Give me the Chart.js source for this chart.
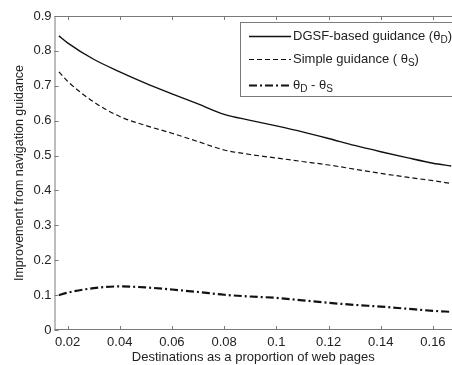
<!DOCTYPE html>
<html>
<head>
<meta charset="utf-8">
<script src="https://cdn.jsdelivr.net/npm/chart.js@4.4.1/dist/chart.umd.min.js"></script>
<style>
html,body{margin:0;padding:0;background:#fff;}
#wrap{width:452px;height:365px;position:relative;}
</style>
</head>
<body>
<div id="wrap"><canvas id="c" width="452" height="365"></canvas></div>
<script>
const destinations = [0.0167, 0.02, 0.03, 0.04, 0.05, 0.06, 0.07, 0.08, 0.09, 0.10, 0.11, 0.12, 0.13, 0.14, 0.15, 0.16, 0.167];
const dgsfGuidance = [0.843, 0.823, 0.776, 0.740, 0.707, 0.677, 0.648, 0.618, 0.601, 0.585, 0.568, 0.549, 0.529, 0.511, 0.494, 0.478, 0.470];
const simpleGuidance = [0.740, 0.713, 0.654, 0.612, 0.586, 0.564, 0.540, 0.516, 0.503, 0.493, 0.483, 0.473, 0.461, 0.449, 0.438, 0.428, 0.420];
const difference = [0.100, 0.107, 0.120, 0.125, 0.122, 0.116, 0.109, 0.101, 0.096, 0.092, 0.085, 0.078, 0.072, 0.067, 0.061, 0.055, 0.052];
const xTicks = [0.02, 0.04, 0.06, 0.08, 0.1, 0.12, 0.14, 0.16];
const yTicks = [0, 0.1, 0.2, 0.3, 0.4, 0.5, 0.6, 0.7, 0.8, 0.9];
const seriesLabels = [
  [['DGSF-based guidance (θ', 0], ['D', 1], [')', 0]],
  [['Simple guidance ( θ', 0], ['S', 1], [')', 0]],
  [['θ', 0], ['D', 1], [' - θ', 0], ['S', 1]]
];

const FONT = '"Liberation Sans", Arial, sans-serif';
const pts = (ys) => destinations.map((x, i) => ({x: x, y: ys[i]}));
const dashes = [[], [5, 3], [8, 3, 2, 3]];
const widths = [1.4, 1.2, 2.2];

const framePlugin = {
  id: 'frame',
  afterDatasetsDraw(chart) {
    const ctx = chart.ctx;
    const a = chart.chartArea;
    const xs = chart.scales.x, ys = chart.scales.y;
    ctx.save();
    ctx.strokeStyle = '#7a7a7a';
    ctx.lineWidth = 1;
    ctx.setLineDash([]);
    ctx.beginPath();
    ctx.moveTo(a.left + 0.5, a.top + 0.5);
    ctx.lineTo(a.right, a.top + 0.5);
    ctx.moveTo(a.left + 0.5, a.top);
    ctx.lineTo(a.left + 0.5, a.bottom);
    ctx.moveTo(a.left, a.bottom - 0.5);
    ctx.lineTo(a.right, a.bottom - 0.5);
    xTicks.forEach(v => {
      const px = Math.round(xs.getPixelForValue(v)) + 0.5;
      ctx.moveTo(px, a.bottom); ctx.lineTo(px, a.bottom - 4);
      ctx.moveTo(px, a.top); ctx.lineTo(px, a.top + 4);
    });
    yTicks.forEach(v => {
      const py = Math.round(ys.getPixelForValue(v)) + 0.5;
      ctx.moveTo(a.left, py); ctx.lineTo(a.left + 4, py);
    });
    ctx.stroke();

    // legend
    const lx = 240.5, ly = 22.5, lw = 215, lh = 74;
    ctx.fillStyle = '#fff';
    ctx.fillRect(lx, ly, lw, lh);
    ctx.strokeStyle = '#7a7a7a';
    ctx.strokeRect(lx, ly, lw, lh);
    const rows = [36, 59, 85];
    chart.data.datasets.forEach((ds, i) => {
      const y = rows[i];
      ctx.strokeStyle = '#111';
      ctx.lineWidth = widths[i];
      ctx.setLineDash(dashes[i]);
      ctx.beginPath();
      ctx.moveTo(249, y + 0.5);
      ctx.lineTo(291, y + 0.5);
      ctx.stroke();
      ctx.setLineDash([]);
      let tx = 293;
      ctx.fillStyle = '#222';
      ctx.textBaseline = 'middle';
      ctx.textAlign = 'left';
      seriesLabels[i].forEach(([t, sub]) => {
        ctx.font = (sub ? '10px ' : '13px ') + FONT;
        ctx.fillText(t, tx, y + (sub ? 4 : 0));
        tx += ctx.measureText(t).width;
      });
    });
    ctx.restore();
  }
};

new Chart(document.getElementById('c'), {
  type: 'line',
  data: {
    datasets: [
      {label: 'DGSF-based guidance (θD)', data: pts(dgsfGuidance), borderColor: '#111', borderWidth: widths[0], borderDash: dashes[0], pointRadius: 0, cubicInterpolationMode: 'monotone', fill: false},
      {label: 'Simple guidance ( θS)', data: pts(simpleGuidance), borderColor: '#111', borderWidth: widths[1], borderDash: dashes[1], pointRadius: 0, cubicInterpolationMode: 'monotone', fill: false},
      {label: 'θD - θS', data: pts(difference), borderColor: '#111', borderWidth: widths[2], borderDash: dashes[2], pointRadius: 0, cubicInterpolationMode: 'monotone', fill: false}
    ]
  },
  options: {
    responsive: false,
    animation: false,
    layout: {padding: {top: 16, right: 0, left: 0, bottom: 0}},
    plugins: {legend: {display: false}, tooltip: {enabled: false}},
    scales: {
      x: {
        type: 'linear', min: 0.015, max: 0.1673,
        afterBuildTicks: s => { s.ticks = xTicks.map(v => ({value: v})); },
        afterFit: s => { s.height = 35; },
        grid: {display: false, drawTicks: false},
        border: {display: false},
        ticks: {color: '#222', font: {family: FONT, size: 13}, padding: 5, maxRotation: 0, autoSkip: false, callback: v => String(v)},
        title: {display: true, text: 'Destinations as a proportion of web pages', color: '#222', font: {family: FONT, size: 13}, padding: {top: 0, bottom: 0}}
      },
      y: {
        type: 'linear', min: 0, max: 0.9,
        afterBuildTicks: s => { s.ticks = yTicks.map(v => ({value: v})); },
        afterFit: s => { s.width = 54.5; },
        grid: {display: false, drawTicks: false},
        border: {display: false},
        ticks: {color: '#222', font: {family: FONT, size: 13}, padding: 3, autoSkip: false, callback: v => String(v)},
        title: {display: true, text: 'Improvement from navigation guidance', color: '#222', font: {family: FONT, size: 12.5}, padding: {top: 12, bottom: 0}}
      }
    }
  },
  plugins: [framePlugin]
});
</script>
</body>
</html>
